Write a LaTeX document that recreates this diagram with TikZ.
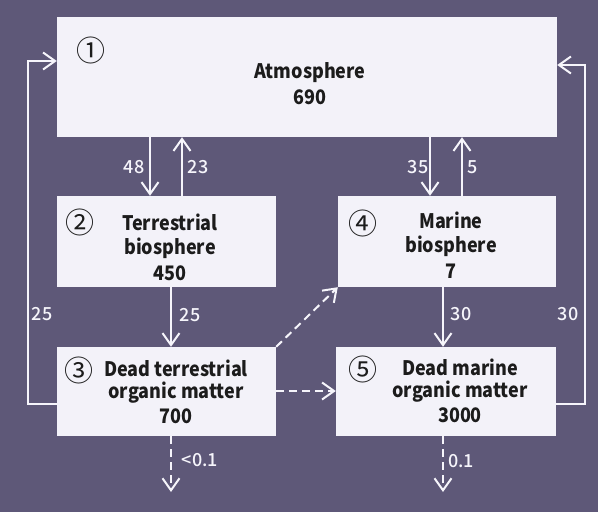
\documentclass[tikz,border=0pt]{standalone}
\usepackage{fontspec}
\setmainfont[FakeStretch=0.9]{Noto Sans CJK JP}
\newfontfamily\circfont{Noto Sans CJK JP}
\newfontfamily\labelfont{Noto Sans CJK JP Medium}
\usetikzlibrary{arrows.meta}
\definecolor{bg}{HTML}{5E5878}
\definecolor{boxfill}{HTML}{F3F2F9}
\definecolor{ink}{HTML}{1C1C1C}
\definecolor{flowline}{HTML}{F6F5FB}
\tikzset{
  store/.style={fill=boxfill, draw=none, inner sep=0pt},
  storetext/.style={text=ink, font=\bfseries\fontsize{20}{24}\selectfont, align=center, inner sep=0pt},
  circnum/.style={text=ink, font=\circfont\fontsize{29}{29}\selectfont, inner sep=0pt},
  flow/.style={draw=flowline, line width=2pt,
    -{Straight Barb[length=12pt,width=17pt,line width=2pt]}},
  leak/.style={flow, dash pattern=on 8pt off 5pt},
  flowlabel/.style={text=flowline, font=\labelfont\fontsize{18}{18}\selectfont, inner sep=0pt},
}
\begin{document}
\begin{tikzpicture}[x=1pt,y=-1pt]
  % canvas
  \fill[bg] (0,0) rectangle (598,512);
  \useasboundingbox (0,0) rectangle (598,512);

  % reservoirs
  \node[store, minimum width=500pt, minimum height=120pt] (atm)   at (307,77)    {};
  \node[store, minimum width=219pt, minimum height=91pt]  (terr)  at (166.5,241.5) {};
  \node[store, minimum width=218pt, minimum height=91pt]  (mar)   at (447,241.5) {};
  \node[store, minimum width=219pt, minimum height=89pt]  (deadt) at (166.5,391.5) {};
  \node[store, minimum width=220pt, minimum height=89pt]  (deadm) at (446,391.5) {};

  % reservoir labels
  \node[storetext] (atmtxt)   at (310,84)  {Atmosphere\\[2pt]690};
  \node[storetext] (terrtxt)  at (170,247) {Terrestrial\\ biosphere\\[2pt]450};
  \node[storetext] (martxt)   at (451,245) {Marine\\ biosphere\\[2pt]7};
  \node[storetext] (deadttxt) at (176,392) {Dead terrestrial\\[-2pt] organic matter\\[1pt]700};
  \node[storetext] (deadmtxt) at (460,391) {Dead marine\\[-2pt] organic matter\\[1pt]3000};

  \node[circnum] (n1) at (91,50)   {①};
  \node[circnum] (n2) at (80,222)  {②};
  \node[circnum] (n3) at (79,370)  {③};
  \node[circnum] (n4) at (363,223) {④};
  \node[circnum] (n5) at (363,369) {⑤};

  % x positions of the vertical flows
  \coordinate (c48) at (150,0);
  \coordinate (c23) at (182,0);
  \coordinate (c35) at (430,0);
  \coordinate (c5)  at (462,0);
  \coordinate (cT)  at (171,0);
  \coordinate (cM)  at (443,0);
  % return loops
  \coordinate (loopL) at (28,404);
  \coordinate (loopR) at (585,404);
  \coordinate (inL) at (28,61);
  \coordinate (inR) at (585,65);
  \coordinate (sinkT) at (171,492);
  \coordinate (sinkM) at (443,492);

  % exchanges with the atmosphere
  \draw[flow] (c48 |- atm.south) -- (c48 |- terr.north);
  \draw[flow] (c23 |- terr.north) -- (c23 |- atm.south);
  \draw[flow] (c35 |- atm.south) -- (c35 |- mar.north);
  \draw[flow] (c5 |- mar.north) -- (c5 |- atm.south);

  % litter fall
  \draw[flow] (cT |- terr.south) -- (cT |- deadt.north);
  \draw[flow] (cM |- mar.south) -- (cM |- deadm.north);

  % decomposition back to the atmosphere
  \draw[flow] (loopL -| deadt.west) -- (loopL) -- (inL) -- (inL -| atm.west);
  \draw[flow] (loopR -| deadm.east) -- (loopR) -- (inR) -- (inR -| atm.east);

  % transport from land to sea
  \draw[leak] (deadt.north east) -- (mar.south west);
  \draw[leak] (deadt.east |- 0,391) -- (deadm.west |- 0,391);

  % burial
  \draw[leak] (cT |- deadt.south) -- (sinkT);
  \draw[leak] (cM |- deadm.south) -- (sinkM);

  % flux values
  \node[flowlabel] (f48) at (134,167) {48};
  \node[flowlabel] (f23) at (198,167) {23};
  \node[flowlabel] (f35) at (418,167) {35};
  \node[flowlabel] (f5)  at (473,167) {5};
  \node[flowlabel] (f25a) at (42,314)  {25};
  \node[flowlabel] (f25b) at (190,315) {25};
  \node[flowlabel] (f30a) at (461,314) {30};
  \node[flowlabel] (f30b) at (568,314) {30};
  \node[flowlabel] (fT) at (200,460) {<0.1};
  \node[flowlabel] (fM) at (461,461) {0.1};
\end{tikzpicture}
\end{document}
